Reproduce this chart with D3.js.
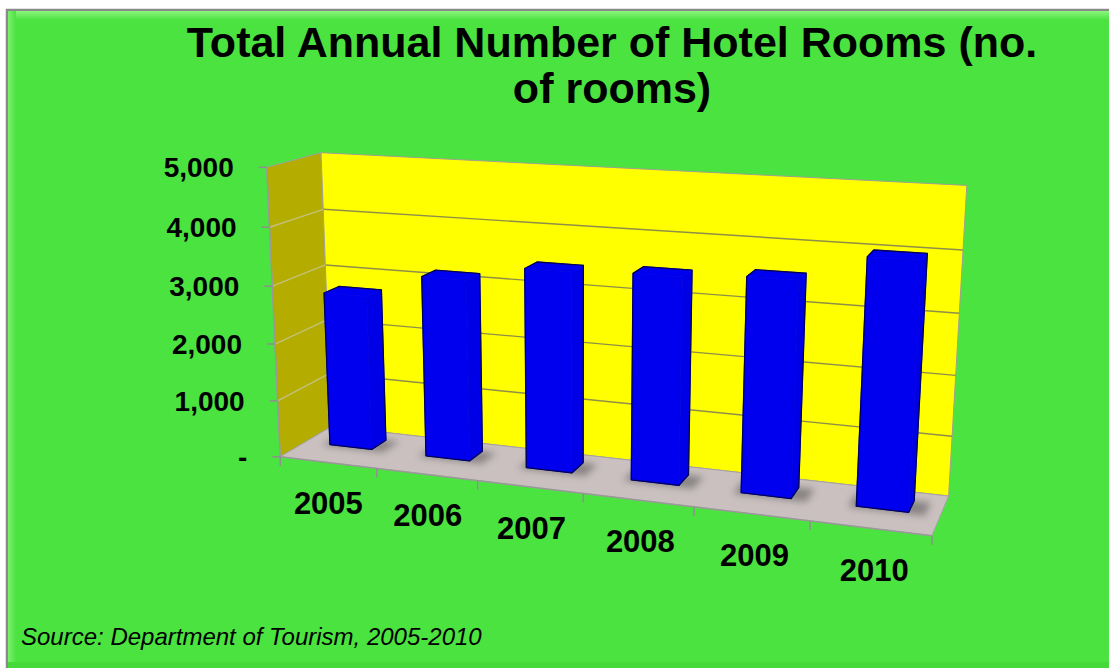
<!DOCTYPE html>
<html><head><meta charset="utf-8">
<script src="https://cdn.jsdelivr.net/npm/d3@7/dist/d3.min.js"></script>
<style>html,body{margin:0;padding:0;background:#fff;}svg{display:block;}</style>
</head><body>
<svg id="chart" width="1109" height="668"></svg>
<script>
// ---- data ----
const years = ["2005", "2006", "2007", "2008", "2009", "2010"];
const rooms = [2730, 3150, 3420, 3470, 3550, 3990];
const yTicks = [0, 1000, 2000, 3000, 4000, 5000];
const titleLines = ["Total Annual Number of Hotel Rooms (no.", "of rooms)"];
const sourceText = "Source: Department of Tourism, 2005-2010";

// ---- perspective camera calibration (world X: 0..6 categories, Y: 0..5 thousand, Z: 0 front .. 1 back) ----
const calib = [
  [0,0,0,284,452],[0,5,0,264,168],[6,0,0,932,537],
  [0,0,1,326,432],[0,5,1,325,153],[6,0,1,950,492],[6,5,1,968,187],
  [1,0,0,378,469],[2,0,0,478,482],[3,0,0,583,494],[4,0,0,693,508],[5,0,0,810,524],
  [0,4,1,325,208],[0,3,1,325,265],[6,4,1,963,250],[6,3,1,958,313],[6,2,1,955,374],[6,1,1,952,435],
  [0,4,0,266,228],[0,3,0,271,286],[0,2,0,276,343],[0,1,0,280,398]
];
const CX = 600, CY = 350, S = 300;
function solveDLT(pts){
  const A = [], b = [];
  pts.forEach(([X,Y,Z,u,v]) => {
    const un = (u-CX)/S, vn = (v-CY)/S;
    A.push([X,Y,Z,1,0,0,0,0,-un*X,-un*Y,-un*Z]); b.push(un);
    A.push([0,0,0,0,X,Y,Z,1,-vn*X,-vn*Y,-vn*Z]); b.push(vn);
  });
  const n = 11;
  const M = Array.from({length:n}, (_,i) => {
    const row = new Array(n+1).fill(0);
    for (let j=0;j<n;j++) for (let k=0;k<A.length;k++) row[j]+=A[k][i]*A[k][j];
    for (let k=0;k<A.length;k++) row[n]+=A[k][i]*b[k];
    return row;
  });
  for (let c=0;c<n;c++){
    let p=c; for (let r=c+1;r<n;r++) if (Math.abs(M[r][c])>Math.abs(M[p][c])) p=r;
    [M[c],M[p]]=[M[p],M[c]];
    for (let r=0;r<n;r++){ if(r===c) continue; const f=M[r][c]/M[c][c]; for(let k=c;k<=n;k++) M[r][k]-=f*M[c][k]; }
  }
  return M.map((row,i)=>row[n]/row[i]);
}
const P = solveDLT(calib);
function proj(X,Y,Z){
  const w = P[8]*X+P[9]*Y+P[10]*Z+1;
  return [ (P[0]*X+P[1]*Y+P[2]*Z+P[3])/w*S+CX, (P[4]*X+P[5]*Y+P[6]*Z+P[7])/w*S+CY ];
}

// ---- scales ----
const x = d3.scaleBand().domain(years).range([0,6]).paddingInner(0.56).paddingOuter(0.26);
const y = d3.scaleLinear().domain([0,5000]).range([0,5]);
const zFront = 0.48, zBack = 0.78;
const X0 = 0, X1 = 6, Z0 = 0, Z1 = 1, YT = y(5000);

const svg = d3.select("#chart");
const line = d3.line();
const poly = pts => line(pts.map(p => proj(...p))) + "Z";

// ---- frame ----
const defs = svg.append("defs");
const g1 = defs.append("linearGradient").attr("id","topHi").attr("x1",0).attr("y1",0).attr("x2",0).attr("y2",1);
g1.append("stop").attr("offset",0).attr("stop-color","#8cf57f");
g1.append("stop").attr("offset",1).attr("stop-color","#4be33f");
const g2 = defs.append("linearGradient").attr("id","leftHi").attr("x1",0).attr("y1",0).attr("x2",1).attr("y2",0);
g2.append("stop").attr("offset",0).attr("stop-color","#7cf070");
g2.append("stop").attr("offset",1).attr("stop-color","#4be33f");
defs.append("filter").attr("id","blur").attr("x","-50%").attr("y","-50%").attr("width","200%").attr("height","200%")
  .append("feGaussianBlur").attr("stdDeviation",3.5);

svg.append("rect").attr("x",7).attr("y",10).attr("width",1110).attr("height",670)
  .attr("fill","#4be33f").attr("stroke","#8a8a8a").attr("stroke-width",2.5);
svg.append("rect").attr("x",8).attr("y",11).attr("width",1101).attr("height",9).attr("fill","url(#topHi)");
svg.append("rect").attr("x",8).attr("y",11).attr("width",8).attr("height",657).attr("fill","url(#leftHi)");
svg.append("rect").attr("x",8).attr("y",662).attr("width",1101).attr("height",6).attr("fill","#45d93a");

// ---- walls & floor ----
const plot = svg.append("g");
plot.append("path").attr("d", poly([[X0,0,Z0],[X0,0,Z1],[X0,YT,Z1],[X0,YT,Z0]]))
  .attr("fill","#b4ad00").attr("stroke","#a0a0a0").attr("stroke-width",1);
plot.append("path").attr("d", poly([[X0,0,Z1],[X1,0,Z1],[X1,YT,Z1],[X0,YT,Z1]]))
  .attr("fill","#ffff00").attr("stroke","#a0a090").attr("stroke-width",1);
plot.append("path").attr("d", poly([[X0,0,Z0],[X1,0,Z0],[X1,0,Z1],[X0,0,Z1]]))
  .attr("fill","#c9c0bf").attr("stroke","#a8a0a0").attr("stroke-width",1);

// gridlines
yTicks.filter(v => v>0 && v<5000).forEach(v => {
  plot.append("path").attr("d", line([proj(X0,y(v),Z1), proj(X1,y(v),Z1)]))
    .attr("stroke","#8e8e4a").attr("stroke-width",1.4).attr("fill","none");
  plot.append("path").attr("d", line([proj(X0,y(v),Z0), proj(X0,y(v),Z1)]))
    .attr("stroke","#c4c07a").attr("stroke-width",1.4).attr("fill","none");
});

// axes
plot.append("path").attr("d", line([proj(X0,0,Z0), proj(X0,YT,Z0)])).attr("stroke","#999").attr("stroke-width",1.5);
plot.append("path").attr("d", line([proj(X0,0,Z0), proj(X1,0,Z0)])).attr("stroke","#999").attr("stroke-width",1.5);
yTicks.forEach(v => {
  const p = proj(X0,y(v),Z0);
  plot.append("line").attr("x1",p[0]-8).attr("y1",p[1]).attr("x2",p[0]).attr("y2",p[1]).attr("stroke","#8f8f8f").attr("stroke-width",1.5);
  plot.append("text").attr("x",p[0]-33).attr("y",p[1]).attr("dy","0.36em").attr("text-anchor","end")
    .attr("font-family","Liberation Sans, Arial, sans-serif").attr("font-weight","bold").attr("font-size",28)
    .text(v===0 ? "-" : d3.format(",")(v));
});
d3.range(0,7).forEach(i => {
  const p = proj(i,0,Z0);
  plot.append("line").attr("x1",p[0]).attr("y1",p[1]).attr("x2",p[0]).attr("y2",p[1]+9).attr("stroke","#8f8f8f").attr("stroke-width",1.5);
});

// shadows
years.forEach((yr,i) => {
  const a = x(yr), b = a + x.bandwidth();
  plot.append("path").attr("d", poly([[a-0.06,0,zFront-0.04],[b+0.14,0,zFront-0.04],[b+0.14,0,zBack],[a-0.06,0,zBack]]))
    .attr("fill","#4a4a4a").attr("opacity",0.5).attr("filter","url(#blur)");
});

// bars
function boxFaces(a,b,h,z0,z1){
  const F = [
    {n:[0,0,-1], c:"#0000ee", v:[[a,0,z0],[b,0,z0],[b,h,z0],[a,h,z0]]},
    {n:[0,0,1],  c:"#0000e0", v:[[a,0,z1],[b,0,z1],[b,h,z1],[a,h,z1]]},
    {n:[-1,0,0], c:"#0000e0", v:[[a,0,z0],[a,0,z1],[a,h,z1],[a,h,z0]]},
    {n:[1,0,0],  c:"#0000e6", v:[[b,0,z0],[b,0,z1],[b,h,z1],[b,h,z0]]},
    {n:[0,1,0],  c:"#0000f0", v:[[a,h,z0],[b,h,z0],[b,h,z1],[a,h,z1]]},
    {n:[0,-1,0], c:"#0000ee", v:[[a,0,z0],[b,0,z0],[b,0,z1],[a,0,z1]]}
  ];
  F.forEach(f => {
    const [p0,p1,p2] = f.v;
    const u=[p1[0]-p0[0],p1[1]-p0[1],p1[2]-p0[2]], w=[p2[0]-p0[0],p2[1]-p0[1],p2[2]-p0[2]];
    const cr=[u[1]*w[2]-u[2]*w[1], u[2]*w[0]-u[0]*w[2], u[0]*w[1]-u[1]*w[0]];
    if (cr[0]*f.n[0]+cr[1]*f.n[1]+cr[2]*f.n[2] < 0) f.v.reverse();
    const s = f.v.map(p=>proj(...p));
    let ar=0; for(let k=0;k<s.length;k++){const q=s[k], r=s[(k+1)%s.length]; ar+=q[0]*r[1]-r[0]*q[1];}
    f.area = ar;
  });
  const ref = Math.sign(F[0].area);
  return F.filter(f => Math.sign(f.area) === ref);
}
years.forEach((yr,i) => {
  const a = x(yr), b = a + x.bandwidth(), h = y(rooms[i]);
  const g = plot.append("g");
  const faces = boxFaces(a,b,h,zFront,zBack);
  faces.forEach(f => {
    g.append("path").attr("d", poly(f.v)).attr("fill", f.c).attr("stroke", f.c).attr("stroke-width",0.8).attr("stroke-linejoin","round");
  });
  const corners = [];
  [a,b].forEach(cx => [0,h].forEach(cy => [zFront,zBack].forEach(cz => corners.push(proj(cx,cy,cz)))));
  g.append("path").attr("d", "M" + d3.polygonHull(corners).join("L") + "Z")
    .attr("fill","none").attr("stroke","#00005a").attr("stroke-width",1.3).attr("stroke-linejoin","round");
});

// category labels
years.forEach((yr,i) => {
  const p = proj(x(yr)+x.bandwidth()/2, 0, Z0);
  plot.append("text").attr("x",p[0]+2).attr("y",p[1]+41).attr("dy","0.36em").attr("text-anchor","middle")
    .attr("font-family","Liberation Sans, Arial, sans-serif").attr("font-weight","bold").attr("font-size",31)
    .text(yr);
});

// title
svg.selectAll("text.title").data(titleLines).join("text").attr("class","title")
  .attr("x",612).attr("y",(d,i)=>57+i*46).attr("text-anchor","middle")
  .attr("font-family","Liberation Sans, Arial, sans-serif").attr("font-weight","bold").attr("font-size",43)
  .text(d=>d);

// source
svg.append("text").attr("x",21).attr("y",645)
  .attr("font-family","Liberation Sans, Arial, sans-serif").attr("font-style","italic").attr("font-size",24)
  .text(sourceText);
</script>
</body></html>
